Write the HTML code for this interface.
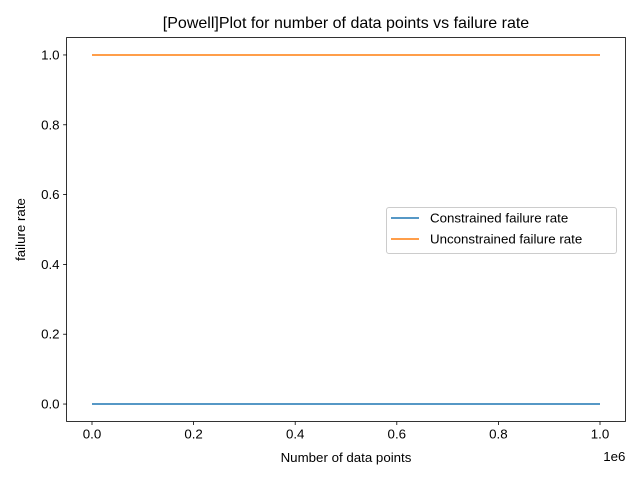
<!DOCTYPE html>
<html><head><meta charset="utf-8"><style>
html,body{margin:0;padding:0;background:#fff;}
svg{display:block;font-family:"Liberation Sans","DejaVu Sans",sans-serif;}
</style></head><body>
<svg id="chart" width="640" height="480"></svg>
<script>
const xValues = [0, 100000, 200000, 300000, 400000, 500000, 600000, 700000, 800000, 900000, 1000000];
const constrainedRate = [0, 0, 0, 0, 0, 0, 0, 0, 0, 0, 0];
const unconstrainedRate = [1, 1, 1, 1, 1, 1, 1, 1, 1, 1, 1];
const xTickValues = [0, 200000, 400000, 600000, 800000, 1000000];
const xTickLabels = ["0.0", "0.2", "0.4", "0.6", "0.8", "1.0"];
const yTickValues = [0, 0.2, 0.4, 0.6, 0.8, 1.0];
const yTickLabels = ["0.0", "0.2", "0.4", "0.6", "0.8", "1.0"];

const L = 66.6, R = 625.4, T = 37.5, B = 421.5;
const xMin = -50000, xMax = 1050000, yMin = -0.05, yMax = 1.05;
const sx = v => L + (v - xMin) / (xMax - xMin) * (R - L);
const sy = v => B - (v - yMin) / (yMax - yMin) * (B - T);
const NS = "http://www.w3.org/2000/svg";
const svg = document.getElementById("chart");
function mk(tag, attrs, parent) {
  const e = document.createElementNS(NS, tag);
  for (const k in attrs) e.setAttribute(k, attrs[k]);
  (parent || svg).appendChild(e);
  return e;
}
function txt(s, attrs) { const t = mk("text", attrs); t.textContent = s; return t; }

const title = txt("[Powell]Plot for number of data points vs failure rate", {x: (L + R) / 2, y: 28, "text-anchor": "middle", "font-size": 16, fill: "#000"});



xTickValues.forEach((v, i) => {
  const g = mk("g", {});
  
  
  mk("line", {x1: sx(v), x2: sx(v), y1: B, y2: B + 3.5, stroke: "#000", "stroke-width": 0.8}, g);
  const t = mk("text", {x: sx(v), y: B + 17, "text-anchor": "middle", "font-size": 13.3, fill: "#000"}, g);
  t.textContent = xTickLabels[i];
});
yTickValues.forEach((v, i) => {
  const g = mk("g", {});
  
  
  mk("line", {x1: L - 3.5, x2: L, y1: sy(v), y2: sy(v), stroke: "#000", "stroke-width": 0.8}, g);
  const t = mk("text", {x: L - 7, y: sy(v) + 4.5, "text-anchor": "end", "font-size": 13.3, fill: "#000"}, g);
  t.textContent = yTickLabels[i];
});
const off = txt("1e6", {x: R, y: 461, "text-anchor": "end", "font-size": 13.3, fill: "#000"});


const xt = txt("Number of data points", {x: (L + R) / 2, y: 462, "text-anchor": "middle", "font-size": 13.3, fill: "#000"});


const yt = txt("failure rate", {x: 25, y: (T + B) / 2, "text-anchor": "middle", "font-size": 13.3, fill: "#000", transform: `rotate(-90 25 ${(T + B) / 2})`});



function series(vals, color, name) {
  const p = mk("polyline", {points: xValues.map((x, i) => sx(x) + "," + sy(vals[i])).join(" "), fill: "none", stroke: color, "stroke-width": 1.5});
  
  
}
series(constrainedRate, "#1f77b4", "constrained-line");
series(unconstrainedRate, "#ff7f0e", "unconstrained-line");

const frame = mk("rect", {x: L, y: T, width: R - L, height: B - T, fill: "none", stroke: "#000", "stroke-width": 0.8});



const lg = mk("g", {});


mk("rect", {x: 386.5, y: 207.5, width: 230, height: 46, rx: 2.5, fill: "#fff", "fill-opacity": 0.8, stroke: "#ccc", "stroke-width": 1}, lg);
[["Constrained failure rate", "#1f77b4"], ["Unconstrained failure rate", "#ff7f0e"]].forEach((e, i) => {
  const g = mk("g", {}, lg);
  
  
  const y = 218 + i * 21;
  mk("line", {x1: 391, x2: 419, y1: y, y2: y, stroke: e[1], "stroke-width": 1.5}, g);
  const t = mk("text", {x: 430, y: y + 4.5, "font-size": 13.3, fill: "#000"}, g);
  t.textContent = e[0];
});
</script>
</body></html>
